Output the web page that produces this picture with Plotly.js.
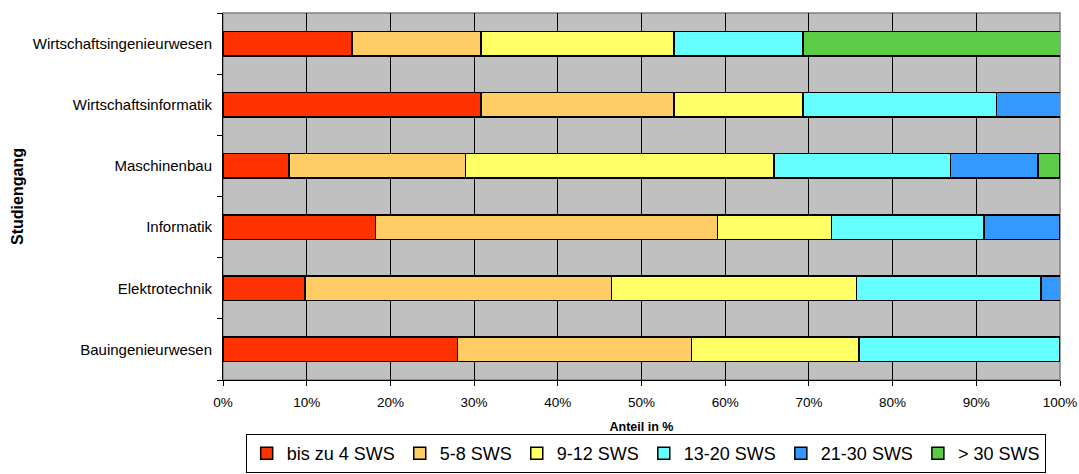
<!DOCTYPE html>
<html>
<head>
<meta charset="utf-8">
<script src="https://cdn.plot.ly/plotly-3.0.1.min.js"></script>
<style>html,body{margin:0;padding:0;background:#fff;}#chart{width:1079px;height:474px;}</style>
</head>
<body>
<div id="chart"></div>
<script>
const categories = ["Bauingenieurwesen", "Elektrotechnik", "Informatik", "Maschinenbau", "Wirtschaftsinformatik", "Wirtschaftsingenieurwesen"];
const seriesNames = ["bis zu 4 SWS", "5-8 SWS", "9-12 SWS", "13-20 SWS", "21-30 SWS", "> 30 SWS"];
const sws0_4   = [28.0,  9.8, 18.2,  7.9, 30.8, 15.4];
const sws5_8   = [28.0, 36.6, 40.9, 21.1, 23.1, 15.4];
const sws9_12  = [20.0, 29.3, 13.6, 36.8, 15.4, 23.1];
const sws13_20 = [24.0, 22.0, 18.2, 21.1, 23.1, 15.4];
const sws21_30 = [ 0.0,  2.4,  9.1, 10.5,  7.7,  0.0];
const sws30p   = [ 0.0,  0.0,  0.0,  2.6,  0.0, 30.8];
const xTicks = [0, 10, 20, 30, 40, 50, 60, 70, 80, 90, 100];

const seriesValues = [sws0_4, sws5_8, sws9_12, sws13_20, sws21_30, sws30p];
const colors = ["#FF3300", "#FFCC66", "#FFFF66", "#66FFFF", "#3399FF", "#5ACC46"];

const font = "Liberation Sans, Arial, sans-serif";
const traces = seriesNames.map((name, i) => ({
  type: "bar",
  orientation: "h",
  name: name,
  y: categories,
  x: seriesValues[i],
  marker: {color: colors[i], line: {color: "#000", width: 1.5}},
  hoverinfo: "name+x"
}));

const layout = {
  width: 1079, height: 474,
  margin: {l: 223, r: 19, t: 13, b: 94},
  paper_bgcolor: "#fff",
  plot_bgcolor: "#C0C0C0",
  barmode: "stack",
  bargap: 0.6,
  font: {family: font, color: "#000"},
  showlegend: true,
  legend: {
    orientation: "h", traceorder: "normal",
    xref: "paper", x: 0.505, xanchor: "center",
    yref: "container", y: 0.002, yanchor: "bottom",
    bordercolor: "#000", borderwidth: 1, bgcolor: "#fff",
    font: {family: font, size: 18, color: "#000"},
    itemwidth: 30
  },
  xaxis: {
    automargin: false,
    range: [0, 100], tickvals: xTicks, ticktext: xTicks.map(v => v + "%"),
    ticks: "outside", ticklen: 5, tickcolor: "#000",
    showline: true, linecolor: "#000", linewidth: 1,
    showgrid: true, gridcolor: "#000", gridwidth: 1,
    zeroline: false,
    tickfont: {family: font, size: 13.5},
    ticklabelstandoff: 5,
    title: {text: "<b>Anteil in %</b>", font: {family: font, size: 12.5}, standoff: 17}
  },
  yaxis: {
    automargin: false,
    type: "category",
    tickson: "boundaries", ticks: "outside", ticklen: 5, tickcolor: "#000",
    showline: true, linecolor: "#000", linewidth: 1,
    showgrid: false, zeroline: false,
    tickfont: {family: font, size: 15},
    ticklabelstandoff: 7,
    title: {text: "<b>Studiengang</b>", font: {family: font, size: 16}, standoff: 5}
  },
  shapes: [{
    type: "rect", xref: "paper", yref: "paper", x0: 0, x1: 1, y0: 0, y1: 1,
    line: {color: "#808080", width: 1.5}, layer: "below"
  }]
};

Plotly.newPlot("chart", traces, layout, {displayModeBar: false, staticPlot: true});
</script>
</body>
</html>
